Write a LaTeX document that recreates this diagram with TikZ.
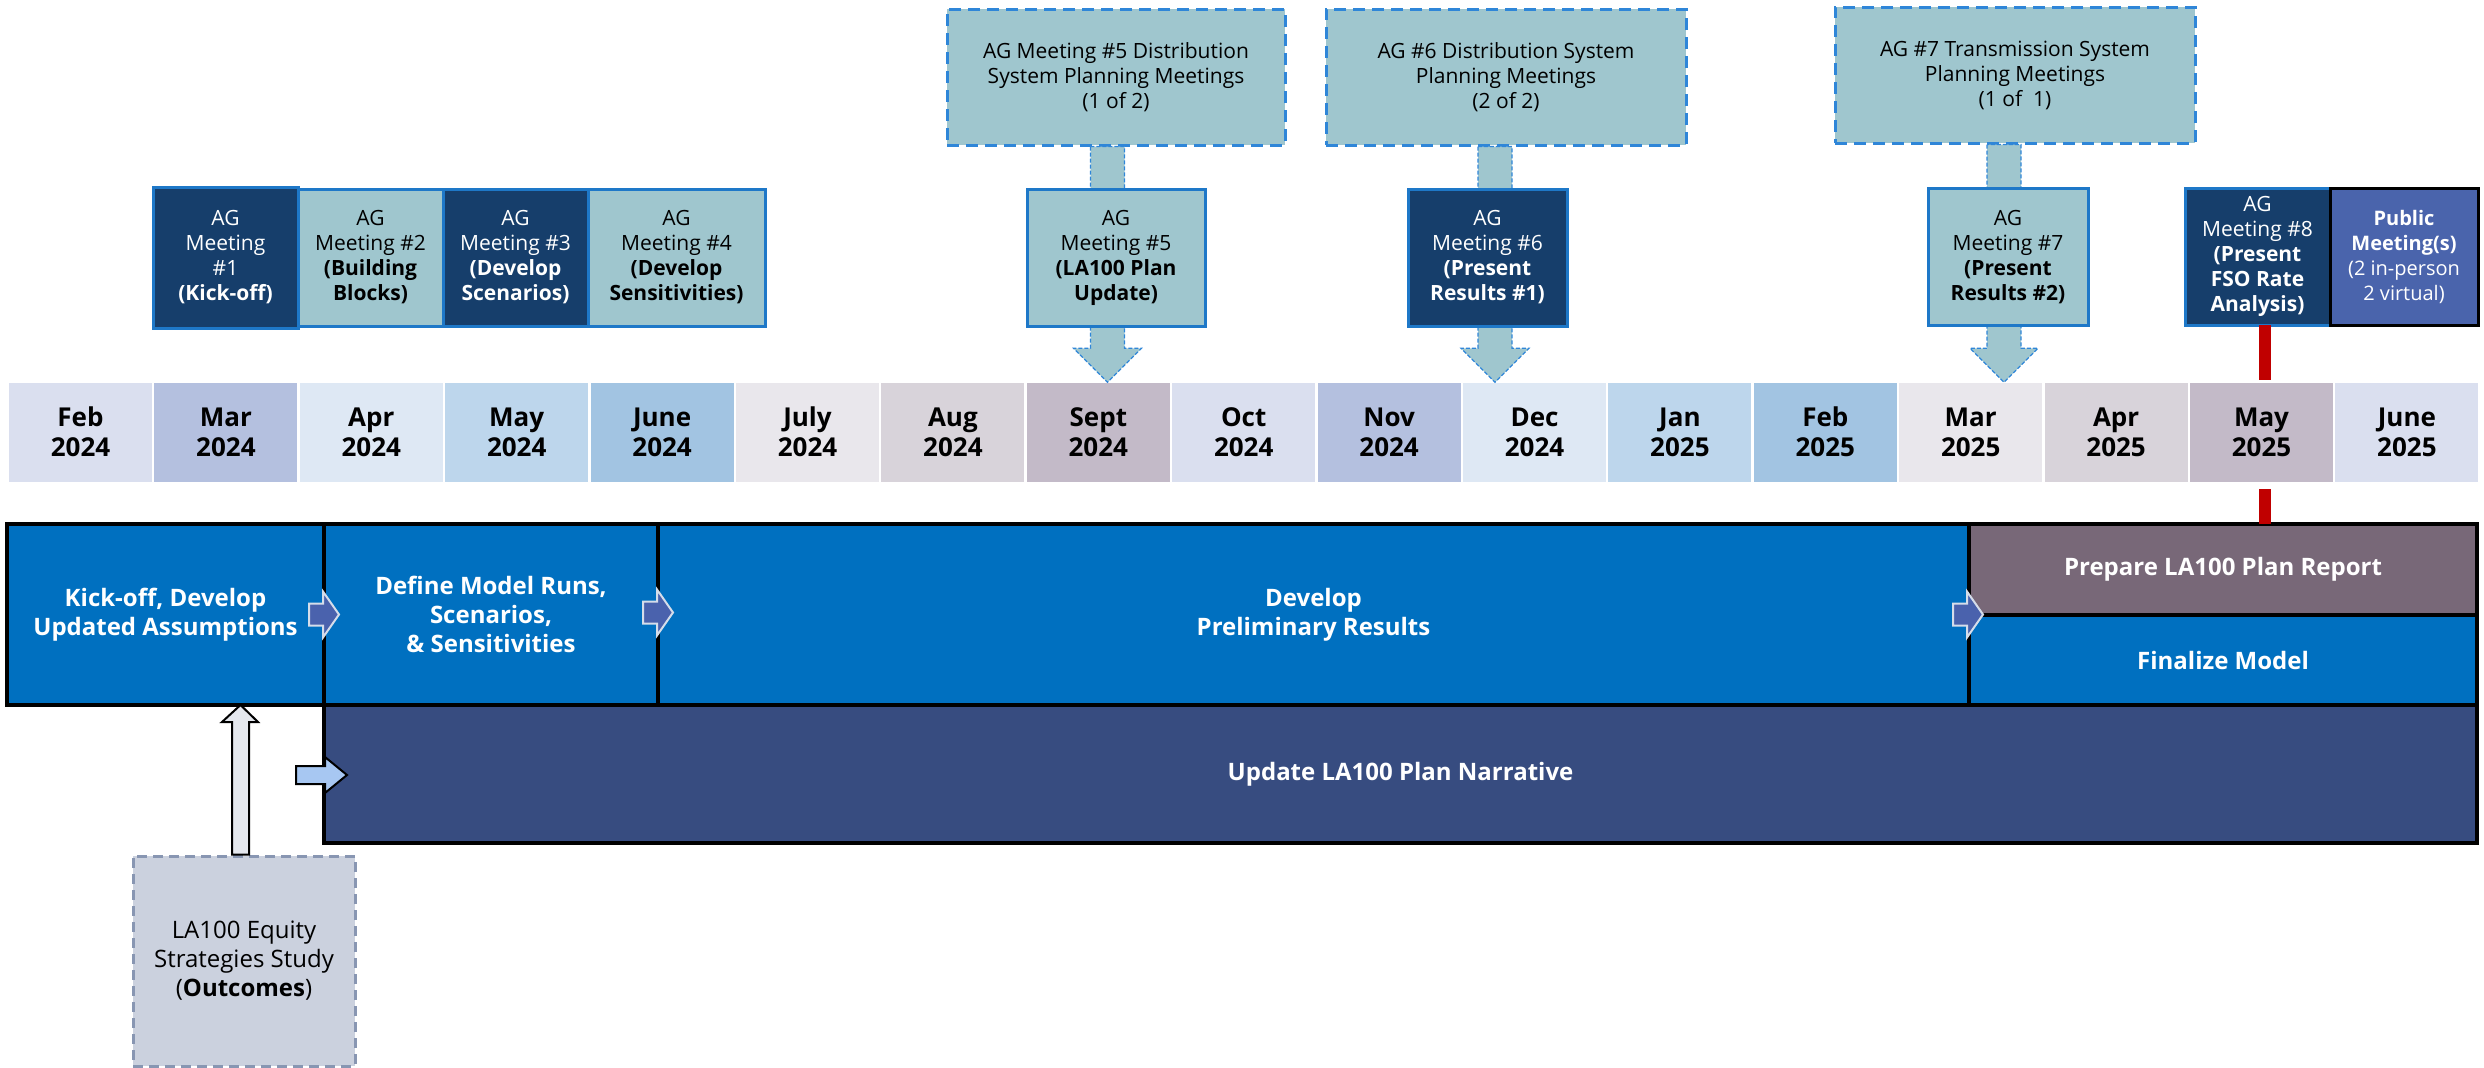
\documentclass[tikz,border=0pt]{standalone}
\usepackage{fontspec}
\setmainfont{Open Sans}
\usepackage{tikz}
\usetikzlibrary{arrows.meta,positioning,calc}
% month cells
\definecolor{mlav}{HTML}{DADFEF}
\definecolor{mperi}{HTML}{B4C0DF}
\definecolor{mice}{HTML}{DEE8F4}
\definecolor{msky}{HTML}{BDD6EC}
\definecolor{msteel}{HTML}{A2C4E2}
\definecolor{mmist}{HTML}{E9E7EC}
\definecolor{mash}{HTML}{D8D3DA}
\definecolor{mmauve}{HTML}{C3BAC8}
% meetings
\definecolor{agnavy}{HTML}{163E6B}
\definecolor{agteal}{HTML}{9FC6CE}
\definecolor{agline}{HTML}{1E78C8}
\definecolor{dashblue}{HTML}{2F86D8}
\definecolor{pubblue}{HTML}{4A64AC}
\definecolor{redc}{HTML}{C00000}
% work streams
\definecolor{barblue}{HTML}{0070C0}
\definecolor{barslate}{HTML}{374C80}
\definecolor{barplum}{HTML}{786878}
\definecolor{chevfill}{HTML}{4A62AD}
\definecolor{chevline}{HTML}{D5DDEA}
\definecolor{narrfill}{HTML}{A7C7F2}
\definecolor{eqfill}{HTML}{CBD1DE}
\definecolor{eqline}{HTML}{8896B2}
\definecolor{upfill}{HTML}{E5E8EE}
\tikzset{
  mcell/.style  = {rectangle, fill=#1, minimum width=143pt, minimum height=99pt, inner sep=0pt,
                   align=center, font=\fontsize{26}{30}\selectfont\bfseries},
  agbox/.style  = {rectangle, draw=agline, line width=3pt, fill=#1, inner sep=1pt, outer sep=0pt,
                   align=center, minimum height=137pt, font=\fontsize{21}{25}\selectfont},
  agdark/.style = {agbox=agnavy, text=white},
  aglight/.style= {agbox=agteal, text=black},
  plan/.style   = {rectangle, draw=dashblue, line width=3pt, dash pattern=on 12pt off 7pt,
                   fill=agteal, align=center, minimum height=136pt, font=\fontsize{21}{25}\selectfont},
  stem/.style   = {draw=dashblue, line width=1.2pt, dash pattern=on 4pt off 2pt, fill=agteal},
  task/.style   = {rectangle, draw=black, line width=3.5pt, fill=#1, text=white, inner sep=0pt,
                   outer sep=0pt, align=center, font=\fontsize{24}{29}\selectfont\bfseries},
  chev/.style   = {draw=chevline, line width=2pt, fill=chevfill},
  narrarr/.style= {draw=black, line width=2pt, fill=narrfill},
  uparr/.style  = {draw=black, line width=2pt, fill=upfill},
  redbar/.style = {draw=redc, line width=12pt},
}
% right-pointing block arrow: style, tip, head length, head half height, body length, body half height
\newcommand{\rarrow}[6]{\draw[#1] (#2) -- ++(-#3,-#4) -- ++(0,{#4-#6}) -- ++(-#5,0) -- ++(0,{2*#6})
  -- ++(#5,0) -- ++(0,{#4-#6}) -- cycle;}
% down block arrow: shaft x, source box, month cell
\newcommand{\planarrow}[3]{\draw[stem] ({#1-17},0 |- #2.south) -- ($({#1-17},0 |- #3.north)+(0,-34)$) -- ++(-17,0)
  -- (#1,0 |- #3.north) -- ($({#1+34},0 |- #3.north)+(0,-34)$) -- ++(-17,0)
  -- ({#1+17},0 |- #2.south) -- cycle;}

\begin{document}
\begin{tikzpicture}[x=1pt,y=-1pt]
\useasboundingbox (0,0) rectangle (2484,1068);
% months
\foreach \mo/\yr/\col [count=\i from 0] in {Feb/2024/mlav, Mar/2024/mperi, Apr/2024/mice, May/2024/msky,
    June/2024/msteel, July/2024/mmist, Aug/2024/mash, Sept/2024/mmauve, Oct/2024/mlav, Nov/2024/mperi,
    Dec/2024/mice, Jan/2025/msky, Feb/2025/msteel, Mar/2025/mmist, Apr/2025/mash, May/2025/mmauve, June/2025/mlav}
  \node[mcell=\col] (m\i) at ({80.5+145.4*\i},432) {\mo\\\yr};
% system planning meetings
\node[plan, minimum width=338pt] (d5) at (1116,77) {AG Meeting \#5 Distribution\\System Planning Meetings\\(1 of 2)};
\node[plan, minimum width=360pt] (d6) at (1506,77) {AG \#6 Distribution System\\Planning Meetings\\(2 of 2)};
\node[plan, minimum width=360pt] (d7) at (2015,75) {AG \#7 Transmission System\\Planning Meetings\\(1 of\ \ 1)};
\planarrow{1107.5}{d5}{m7}
\planarrow{1495}{d6}{m10}
\planarrow{2004}{d7}{m13}
% advisory group meetings
\node[agdark, minimum width=145pt, minimum height=141pt] (ag1) at (225.5,257.5) {AG\\Meeting\\\#1\\\textbf{(Kick-off)}};
\node[aglight, minimum width=145pt, right=0pt of ag1] (ag2) {AG\\Meeting \#2\\\textbf{(Building}\\\textbf{Blocks)}};
\node[agdark, minimum width=145pt, right=0pt of ag2] (ag3) {AG\\Meeting \#3\\\textbf{(Develop}\\\textbf{Scenarios)}};
\node[aglight, minimum width=177pt, right=0pt of ag3] (ag4) {AG\\Meeting \#4\\\textbf{(Develop}\\\textbf{Sensitivities)}};
\node[aglight, minimum width=178pt] (ag5) at (1116,257.5) {AG\\Meeting \#5\\\textbf{(LA100 Plan}\\\textbf{Update)}};
\node[agdark, minimum width=159pt] (ag6) at (1487.5,257.5) {AG\\Meeting \#6\\\textbf{(Present}\\\textbf{Results \#1)}};
\node[aglight, minimum width=160pt] (ag7) at (2008,257) {AG\\Meeting \#7\\\textbf{(Present}\\\textbf{Results \#2)}};
\node[agdark, minimum width=145pt] (ag8) at (2257.5,256.5) {AG\\Meeting \#8\\\textbf{(Present}\\\textbf{FSO Rate}\\\textbf{Analysis)}};
\node[agbox=pubblue, draw=black, text=white, minimum width=148pt, font=\fontsize{20}{25}\selectfont,
      right=0pt of ag8] (pub) {\textbf{Public}\\\textbf{Meeting(s)}\\(2 in-person\\2 virtual)};
% work streams
\node[task=barblue, minimum width=317pt, minimum height=181pt] (kick) at (165.5,614.5) {Kick-off, Develop\\Updated Assumptions};
\node[task=barblue, minimum width=334pt, minimum height=181pt, right=0pt of kick] (define) {Define Model Runs,\\Scenarios,\\\& Sensitivities};
\node[task=barblue, minimum width=1311pt, minimum height=181pt, right=0pt of define] (prelim) {Develop\\Preliminary Results};
\node[task=barplum, minimum width=508pt, minimum height=91pt, anchor=north west] (prep) at (prelim.north east) {Prepare LA100 Plan Report};
\node[task=barblue, minimum width=508pt, minimum height=90pt, anchor=north west] (final) at (prep.south west) {Finalize Model};
\node[task=barslate, minimum width=2153pt, minimum height=138pt, anchor=north west] (narr) at (kick.south east) {Update LA100 Plan Narrative};
\rarrow{chev}{$(kick.east)+(15,0)$}{16}{23}{14}{11}
\rarrow{chev}{$(define.east)+(15,-2)$}{16}{23}{14}{11}
\rarrow{chev}{$(prelim.east)+(14,0)$}{16}{23}{14}{11}
\rarrow{narrarr}{$(narr.west)+(23,1)$}{22}{18}{29}{9}
% FSO milestone
\draw[redbar] (2265,0 |- ag8.south) -- ([yshift=2pt]2265,0 |- m15.north);
\draw[redbar] (2265,0 |- prep.north) -- ([yshift=-7pt]2265,0 |- m15.south);
% equity study input
\node[rectangle, draw=eqline, line width=3pt, dash pattern=on 10pt off 6pt, fill=eqfill, minimum width=222pt,
      minimum height=210pt, align=center, font=\fontsize{24}{29}\selectfont] (eq) at (244,961) {LA100 Equity\\Strategies Study\\(\textbf{Outcomes})};
\draw[uparr] (232,0 |- eq.north) -- (232,722) -- (222,722) -- (240.5,0 |- kick.south) -- (258,722) -- (249,722)
  -- (249,0 |- eq.north) -- cycle;
\end{tikzpicture}
\end{document}
